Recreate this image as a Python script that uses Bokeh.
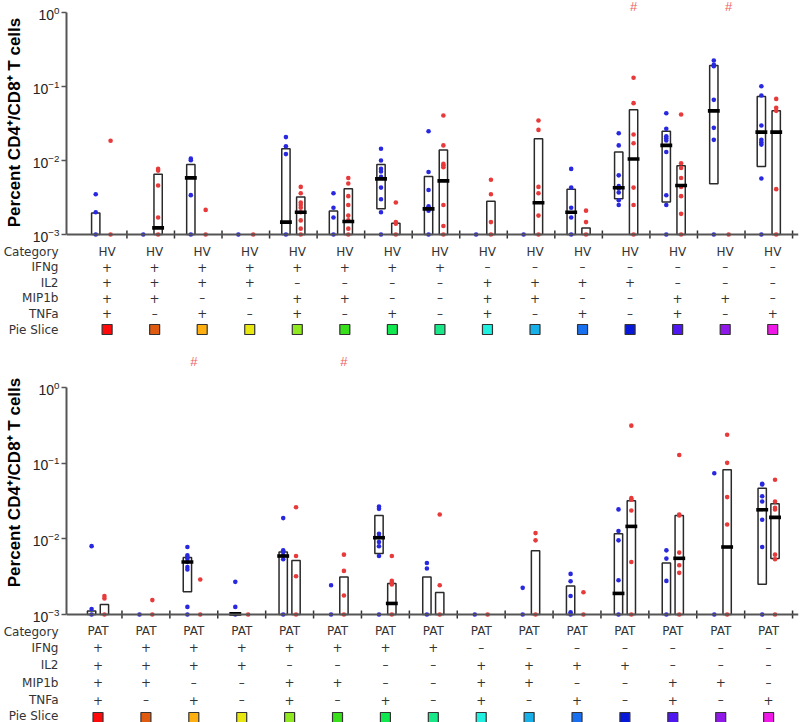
import math
from bokeh.plotting import figure
from bokeh.layouts import column
from bokeh.models import Range1d, FixedTicker, Span
from bokeh.core.properties import value
from bokeh.embed import file_html
from bokeh.resources import INLINE

NAN = float("nan")

# ---------------- data ----------------
groups = list(range(15))
row_names = ["Category", "IFNg", "IL2", "MIP1b", "TNFa", "Pie Slice"]
ifng = ["+", "+", "+", "+", "+", "+", "+", "+", "–", "–", "–", "–", "–", "–", "–"]
il2 = ["+", "+", "+", "+", "–", "–", "–", "–", "+", "+", "+", "+", "–", "–", "–"]
mip1b = ["+", "+", "–", "–", "+", "+", "–", "–", "+", "+", "–", "–", "+", "+", "–"]
tnfa = ["+", "–", "+", "–", "+", "–", "+", "–", "+", "–", "+", "–", "+", "–", "+"]
pie_colors = ["#ff0a0a", "#e05a10", "#ffb010", "#e8e810", "#90e820", "#38e01c", "#10e850",
              "#18e888", "#20f0e0", "#18b0e8", "#1870f0", "#0818d8", "#5018f0", "#9018e8", "#f018e8"]

# HV (top panel) - blue series points
hv_blue = [
    [0.0035, 0.0020, 0.001],
    [0.001],
    [0.0106, 0.0101, 0.0034, 0.001],
    [0.001],
    [0.0207, 0.0156, 0.0122, 0.001],
    [0.0036, 0.0023, 0.0017, 0.001],
    [0.0144, 0.0100, 0.0077, 0.0071, 0.0060, 0.0043, 0.0030, 0.0020, 0.001],
    [0.0249, 0.0070, 0.0040, 0.0024, 0.0021, 0.001],
    [0.001],
    [0.001],
    [0.0077, 0.0043, 0.0023, 0.0017, 0.001],
    [0.0234, 0.0160, 0.0063, 0.0045, 0.0042, 0.0037, 0.0029, 0.0025],
    [0.0436, 0.0268, 0.0213, 0.0200, 0.0186, 0.0130, 0.0034, 0.0025, 0.001],
    [0.2247, 0.196, 0.188, 0.066, 0.0276, 0.019, 0.001],
    [0.101, 0.0755, 0.0297, 0.019, 0.0177, 0.0164, 0.0057, 0.001],
]
# HV - red series points
hv_red = [
    [0.0185, 0.001],
    [0.0077, 0.0073, 0.0046, 0.0017, 0.001],
    [0.00215, 0.001],
    [0.001],
    [0.0044, 0.0036, 0.0027, 0.0025, 0.0023, 0.0020, 0.00155, 0.0012, 0.001],
    [0.0058, 0.0049, 0.0033, 0.0025, 0.0018, 0.00155, 0.0012, 0.001],
    [0.0027, 0.00147, 0.0014, 0.001],
    [0.0406, 0.016, 0.009, 0.0086, 0.0081, 0.0025, 0.0013, 0.001],
    [0.0055, 0.0035, 0.00147, 0.001],
    [0.0347, 0.0259, 0.0044, 0.0036, 0.0018, 0.001],
    [0.0021, 0.00147, 0.001],
    [0.131, 0.0596, 0.0225, 0.0171, 0.0043, 0.0025, 0.001],
    [0.0418, 0.0092, 0.0079, 0.0058, 0.0044, 0.0033, 0.0019, 0.001],
    [0.001],
    [0.068, 0.0515, 0.0469, 0.0041, 0.001],
]
# HV boxes: low / median / high
hv_blue_low = [0.001, NAN, 0.001, NAN, 0.001, 0.001, 0.00222, 0.001, NAN, NAN, 0.001, 0.00303, 0.00274, 0.00484, 0.0083]
hv_blue_med = [NAN, NAN, 0.00583, NAN, 0.00147, NAN, 0.00565, 0.00222, NAN, NAN, 0.0020, 0.00428, 0.0160, 0.0469, 0.0242]
hv_blue_high = [0.00195, NAN, 0.00883, NAN, 0.0144, 0.00207, 0.00883, 0.0061, NAN, NAN, 0.0041, 0.0130, 0.0249, 0.192, 0.0733]
hv_red_low = [NAN, 0.001, NAN, NAN, 0.001, 0.001, 0.001, 0.001, 0.001, 0.001, 0.001, 0.001, 0.001, NAN, 0.001]
hv_red_med = [NAN, 0.00123, NAN, NAN, 0.0020, 0.0015, NAN, 0.0053, NAN, 0.00268, NAN, 0.0105, 0.00459, NAN, 0.0242]
hv_red_high = [NAN, 0.00653, NAN, NAN, 0.0032, 0.00414, 0.00142, 0.0139, 0.00282, 0.0196, 0.00122, 0.0484, 0.00847, NAN, 0.0469]
hv_hash_groups = [11, 13]
hv_hash_side = [1, 1]        # 1 = above the red series, 0 = group centre

# PAT (bottom panel) - blue series points
pat_blue = [
    [0.0080, 0.00118, 0.001],
    [0.001],
    [0.0078, 0.00605, 0.00575, 0.00547, 0.00494, 0.00425, 0.00393, 0.00126, 0.001],
    [0.0027, 0.00126, 0.001],
    [0.0188, 0.00705, 0.0067, 0.00605, 0.00537, 0.001],
    [0.00244, 0.001],
    [0.0268, 0.0249, 0.0117, 0.01054, 0.0091, 0.0080, 0.00593, 0.001],
    [0.0048, 0.00405, 0.001],
    [0.001],
    [0.00225, 0.001],
    [0.00344, 0.00275, 0.00176, 0.00107, 0.001],
    [0.0245, 0.0127, 0.00955, 0.00284, 0.001],
    [0.00705, 0.00548, 0.00278, 0.001],
    [0.0736, 0.001],
    [0.0533, 0.0522, 0.0366, 0.0312, 0.0179, 0.0078, 0.001],
]
# PAT - red series points
pat_red = [
    [0.00175, 0.00163, 0.001],
    [0.00155, 0.001],
    [0.0029, 0.001],
    [0.001],
    [0.0262, 0.00593, 0.0032, 0.001],
    [0.00618, 0.00377, 0.00178, 0.001],
    [0.00593, 0.00278, 0.00265, 0.0025, 0.001],
    [0.021, 0.00244, 0.001],
    [0.001],
    [0.0119, 0.00955, 0.001],
    [0.00197, 0.001],
    [0.313, 0.0345, 0.0328, 0.0237, 0.00494, 0.001],
    [0.1285, 0.021, 0.0204, 0.00658, 0.00448, 0.00355, 0.001],
    [0.238, 0.101, 0.0356, 0.0155, 0.001],
    [0.0603, 0.0312, 0.0258, 0.0245, 0.00618, 0.00537, 0.001],
]
pat_blue_low = [0.001, NAN, 0.0020, 0.001, 0.001, NAN, 0.00638, 0.001, NAN, NAN, 0.001, 0.001, 0.001, NAN, 0.00251]
pat_blue_med = [NAN, NAN, 0.00494, 0.00102, 0.00593, NAN, 0.01035, NAN, NAN, NAN, NAN, 0.0019, NAN, NAN, 0.0242]
pat_blue_high = [0.00111, NAN, 0.00565, 0.00103, 0.0067, NAN, 0.0204, 0.00314, NAN, NAN, 0.00239, 0.0117, 0.0048, NAN, 0.0467]
pat_red_low = [0.001, NAN, NAN, NAN, 0.001, 0.001, 0.001, 0.001, NAN, 0.001, NAN, 0.001, 0.001, 0.001, 0.00548]
pat_red_med = [NAN, NAN, NAN, NAN, NAN, NAN, 0.0014, NAN, NAN, NAN, NAN, 0.0146, 0.00553, 0.0078, 0.0192]
pat_red_high = [0.00136, NAN, NAN, NAN, 0.00516, 0.00314, 0.00257, 0.00195, NAN, 0.00698, NAN, 0.0318, 0.0204, 0.0817, 0.029]
pat_hash_groups = [2, 5]
pat_hash_side = [0, 1]

y_ticks = [0.001, 0.01, 0.1, 1.0]
Y_MIN, Y_MAX = 0.001, 1.0

# ---------------- style / layout ----------------
BLUE = "#2828e0"
RED = "#e83a3a"
FONT = "Liberation Sans"
TFONT = "DejaVu Sans"
W = 800
BORDER_L = 59
BORDER_R = 2


def chart(x_range, height, top_px, decade_px, blue_pts, red_pts, bl, bm, bh, rl, rm, rh,
          hash_groups, hash_side, hash_px, off):
    # frame spans the whole figure height; y range chosen so 10^0 sits top_px below the top
    bottom_px = height - top_px - 3 * decade_px
    y_end = Y_MAX * 10 ** (top_px / decade_px)
    y_start = Y_MIN * 10 ** (-bottom_px / decade_px)
    p = figure(width=W, height=height, x_range=x_range,
               y_range=Range1d(y_start, y_end), y_axis_type="log",
               x_axis_location=None,
               output_backend="svg", toolbar_location=None,
               min_border_left=BORDER_L, min_border_right=BORDER_R,
               min_border_top=0, min_border_bottom=0)
    p.outline_line_color = None
    p.grid.visible = False
    scale = (W - BORDER_L - BORDER_R) / (x_range.end - x_range.start)
    bw = 4.2 / scale
    mw = 6.0 / scale

    # x axis line + separators between categories
    p.add_layout(Span(location=Y_MIN, dimension="width", line_color="#555555", line_width=2))
    tk = [g + 0.5 for g in groups]
    p.segment(x0=tk, x1=tk, y0=[Y_MIN * 10 ** (-4 / decade_px)] * len(tk),
              y1=[Y_MIN * 10 ** (4 / decade_px)] * len(tk), line_color="#333333", line_width=1.5)

    # boxes
    for side, lows, highs in ((-off, bl, bh), (off, rl, rh)):
        L, R, B, T = [], [], [], []
        for g, lo, hi in zip(groups, lows, highs):
            if not (math.isnan(lo) or math.isnan(hi)):
                L.append(g + side - bw); R.append(g + side + bw); B.append(lo); T.append(hi)
        p.quad(left=L, right=R, bottom=B, top=T, fill_color="white",
               line_color="#2a2a2a", line_width=1.5)
    # points
    for side, pts, col in ((-off, blue_pts, BLUE), (off, red_pts, RED)):
        xs, ys = [], []
        for g, vals in zip(groups, pts):
            for v in vals:
                xs.append(g + side); ys.append(v)
        p.scatter(xs, ys, size=4.6, fill_color=col, line_color=None)
    # medians
    for side, meds in ((-off, bm), (off, rm)):
        x0, x1, yy = [], [], []
        for g, m in zip(groups, meds):
            if not math.isnan(m):
                x0.append(g + side - mw); x1.append(g + side + mw); yy.append(m)
        p.segment(x0=x0, x1=x1, y0=yy, y1=yy, line_color="black", line_width=3.6,
                  line_cap="butt")
    # significance marks
    hx = [g + off * s for g, s in zip(hash_groups, hash_side)]
    hy = [Y_MAX * 10 ** ((top_px - hash_px) / decade_px)] * len(hx)
    p.text(x=hx, y=hy, text=["#"] * len(hx), text_font=value(FONT), text_font_size="13px",
           text_color="#f06060", text_align="center", text_baseline="middle")

    ya = p.yaxis[0]
    ya.ticker = FixedTicker(ticks=y_ticks)
    ya.bounds = (Y_MIN, Y_MAX)
    ya.axis_line_color = "#555555"
    ya.axis_line_width = 2
    ya.major_tick_line_color = "#555555"
    ya.major_tick_line_width = 1.5
    ya.major_tick_out = 5
    ya.major_tick_in = 0
    ya.minor_tick_line_color = None
    ya.major_label_text_font = FONT
    ya.major_label_text_font_size = "14px"
    ya.major_label_text_color = "#222222"
    ya.major_label_standoff = 2
    ya.axis_label = "Percent CD4⁺/CD8⁺ T cells"
    ya.axis_label_text_font = FONT
    ya.axis_label_text_font_size = "17px"
    ya.axis_label_text_font_style = "bold"
    ya.axis_label_text_color = "black"
    ya.axis_label_standoff = 6
    return p, scale


def table(x_range, scale, height, y0, dy, cat, label_off):
    y_top = y0 / dy
    y_bot = -(height - y0) / dy
    t = figure(width=W, height=height, x_range=x_range,
               y_range=Range1d(y_bot, y_top), output_backend="svg",
               toolbar_location=None, x_axis_location=None,
               min_border_left=BORDER_L, min_border_right=BORDER_R,
               min_border_top=0, min_border_bottom=0)
    t.outline_line_color = None
    t.grid.visible = False
    ticks = [-r for r in range(len(row_names))]
    ya = t.yaxis[0]
    ya.ticker = FixedTicker(ticks=ticks)
    ya.major_label_overrides = {tv: nm for tv, nm in zip(ticks, row_names)}
    ya.axis_line_color = None
    ya.major_tick_line_color = None
    ya.minor_tick_line_color = None
    ya.major_label_text_font = TFONT
    ya.major_label_text_font_size = "12px"
    ya.major_label_text_color = "#333333"
    ya.major_label_standoff = 2

    xs = [g + label_off for g in groups]
    rows = [[cat] * len(groups), ifng, il2, mip1b, tnfa]
    for r, vals in enumerate(rows):
        t.text(x=xs, y=[-r] * len(groups), text=vals, text_font=value(TFONT),
               text_font_size="12px", text_color="#333333",
               text_align="center", text_baseline="middle")
    t.scatter(x=xs, y=[-5] * len(groups), marker="square", size=10,
              fill_color=pie_colors, line_color="#333333", line_width=1.2)
    return t


xr_top = Range1d(-0.771, 14.625)
xr_bot = Range1d(-0.658, 14.624)

f1, s1 = chart(xr_top, 244, 12, 74.0, hv_blue, hv_red, hv_blue_low, hv_blue_med, hv_blue_high,
               hv_red_low, hv_red_med, hv_red_high, hv_hash_groups, hv_hash_side, 6, 0.156)
t1 = table(xr_top, s1, 96, 7, 15.6, "HV", 0.083)
f2, s2 = chart(xr_bot, 284, 47, 75.67, pat_blue, pat_red, pat_blue_low, pat_blue_med, pat_blue_high,
               pat_red_low, pat_red_med, pat_red_high, pat_hash_groups, pat_hash_side, 21, 0.134)
t2 = table(xr_bot, s2, 98, 6, 17.4, "PAT", 0.0)

layout = column(f1, t1, f2, t2, spacing=0)
open("out.html", "w").write(file_html(layout, INLINE))
